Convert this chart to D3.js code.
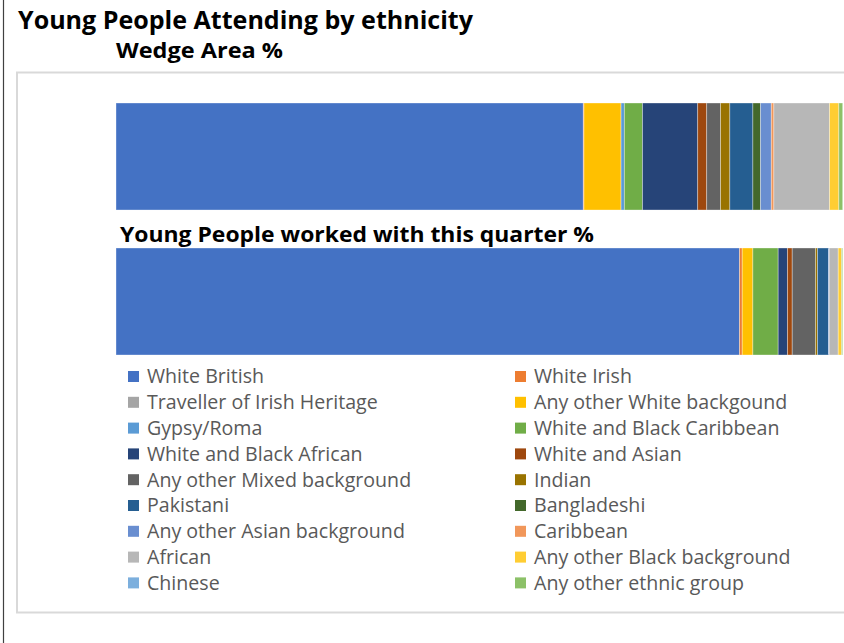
<!DOCTYPE html>
<html>
<head>
<meta charset="utf-8">
<script src="https://cdn.jsdelivr.net/npm/d3@7"></script>
<style>
  body { margin: 0; background: #fff; overflow: hidden; }
  svg { display: block; }
</style>
</head>
<body>
<div id="chart"></div>
<script>
const width = 844;
const height = 643;

// ethnic groups, in stacking order
const groups = [
    "White British", "White Irish", "Traveller of Irish Heritage", "Any other White backgound",
    "Gypsy/Roma", "White and Black Caribbean", "White and Black African", "White and Asian",
    "Any other Mixed background", "Indian", "Pakistani", "Bangladeshi",
    "Any other Asian background", "Caribbean", "African", "Any other Black background",
    "Chinese", "Any other ethnic group"
];
const colors = [
    "#4472C4", "#ED7D31", "#A5A5A5", "#FFC000",
    "#5B9BD5", "#70AD47", "#264478", "#9E480E",
    "#636363", "#997300", "#255E91", "#43682B",
    "#698ED0", "#F1975A", "#B7B7B7", "#FFCD33",
    "#7CAFDD", "#8CC168"
];
const bars = ["Wedge Area %", "Young People worked with this quarter %"];
// % values
const wedgeArea = [64.3, 0.1, 0, 5.1, 0.45, 2.5, 7.6, 1.24, 1.9, 1.28, 3.17, 1.06, 1.47, 0.36, 7.66, 1.28, 0, 0.53];
const workedWith = [85.8, 0.37, 0, 1.47, 0, 3.48, 1.28, 0.65, 3.2, 0.28, 1.51, 0, 0.1, 0, 1.24, 0.47, 0, 0.14];

const rows = bars.map((b, j) => {
    const vals = j === 0 ? wedgeArea : workedWith;
    const r = { bar: b };
    groups.forEach((g, i) => r[g] = vals[i]);
    return r;
});

const svg = d3.select("#chart").append("svg")
    .attr("width", width)
    .attr("height", height);

svg.append("rect").attr("width", width).attr("height", height).attr("fill", "#fff");

// outer chart frame (left edge visible) and plot area frame
svg.append("line")
    .attr("x1", 3.5).attr("x2", 3.5).attr("y1", 0).attr("y2", height)
    .attr("stroke", "#404040").attr("stroke-width", 1.2);
svg.append("rect")
    .attr("x", 17).attr("y", 72.5).attr("width", 900).attr("height", 540)
    .attr("fill", "none").attr("stroke", "#d9d9d9").attr("stroke-width", 2);

const x = d3.scaleLinear().domain([0, 100]).range([116, 842.7]);
const y = d3.scaleBand().domain(bars).range([103, 355]).paddingInner(0.262).paddingOuter(0);
const color = d3.scaleOrdinal().domain(groups).range(colors);

const series = d3.stack().keys(groups)(rows);

svg.append("g")
  .selectAll("g")
  .data(series)
  .join("g")
    .attr("fill", d => color(d.key))
  .selectAll("rect")
  .data(d => d)
  .join("rect")
    .attr("x", d => x(d[0]))
    .attr("y", d => y(d.data.bar))
    .attr("width", d => Math.max(0, x(d[1]) - x(d[0])))
    .attr("height", y.bandwidth())
    .attr("stroke", "#fff")
    .attr("stroke-opacity", d => d[1] > d[0] ? 0.45 : 0)
    .attr("stroke-width", 0.75);

// titles
const bold = "'Open Sans', 'DejaVu Sans', sans-serif";
svg.append("text")
    .attr("x", 18).attr("y", 28.5)
    .attr("font-family", bold).attr("font-weight", 700).attr("font-size", 25)
    .attr("textLength", 455).attr("lengthAdjust", "spacingAndGlyphs")
    .attr("fill", "#000")
    .text("Young People Attending by ethnicity");
svg.append("text")
    .attr("x", 116).attr("y", 57.5)
    .attr("font-family", bold).attr("font-weight", 700).attr("font-size", 22)
    .attr("textLength", 167).attr("lengthAdjust", "spacingAndGlyphs")
    .attr("fill", "#000")
    .text(bars[0]);
svg.append("text")
    .attr("x", 120).attr("y", 242)
    .attr("font-family", bold).attr("font-weight", 700).attr("font-size", 22)
    .attr("textLength", 474).attr("lengthAdjust", "spacingAndGlyphs")
    .attr("fill", "#000")
    .text(bars[1]);

// legend, two columns filled row by row
const legendX = [128, 515];
const legendY0 = 376.5;
const legendStep = 25.8;
const legend = svg.append("g")
  .selectAll("g")
  .data(groups)
  .join("g")
    .attr("transform", (d, i) => `translate(${legendX[i % 2]},${legendY0 + Math.floor(i / 2) * legendStep})`);
legend.append("rect")
    .attr("x", 0).attr("y", -5.5).attr("width", 11).attr("height", 11)
    .attr("fill", d => color(d));
legend.append("text")
    .attr("x", 19).attr("y", 0).attr("dy", "0.35em")
    .attr("font-family", "'Open Sans', sans-serif").attr("font-size", 19.6)
    .attr("fill", "#595959")
    .text(d => d);
</script>
</body>
</html>
